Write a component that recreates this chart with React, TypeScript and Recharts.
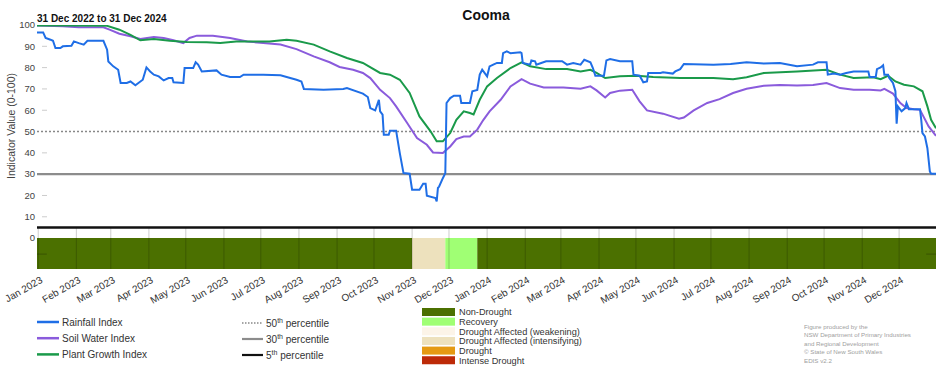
import React from 'react';
import { LineChart, Line, XAxis, YAxis, ReferenceLine, ReferenceArea } from 'recharts';

// day index: 0 = 31 Dec 2022, 731 = 31 Dec 2024
const rainfall: [number, number][] = [
  [0, 96.5], [5, 96.5], [7, 93.9], [11, 93.1], [13, 92.6], [15, 89.2], [19, 89.2], [21, 90], [28, 90.3],
  [30, 92.3], [34, 91.5], [38, 90.8], [41, 92.6], [54, 92.6], [57, 88.4], [58, 82.9], [62, 80.6], [66, 79],
  [68, 72.8], [73, 72.8], [76, 73.5], [80, 71.7], [86, 74.3], [89, 80.1], [92, 78.2], [95, 76.7], [99, 75.9],
  [103, 74], [107, 75.1], [110, 75.1], [111, 73.1], [119, 72.8], [120, 79.8], [127, 79.8], [129, 82.5],
  [131, 81.4], [134, 78.2], [146, 78.7], [150, 76.7], [157, 75.6], [165, 75.6], [168, 76.7], [184, 76.7],
  [198, 76.4], [203, 75.6], [211, 74.3], [215, 73.5], [217, 70], [233, 69.6], [249, 70], [252, 70.4],
  [265, 67.8], [269, 66.2], [271, 61], [275, 59.9], [278, 64.9], [279, 59.5], [281, 57.9], [282, 48.5],
  [286, 48.5], [287, 50.4], [292, 50.4], [295, 39.9], [298, 30.5], [303, 30.2], [305, 22.7], [311, 22.7],
  [314, 25.5], [316, 25.5], [317, 19.9], [324, 18.8], [325, 17.2], [326, 23.5], [327, 24.2], [330, 28.1],
  [332, 30.5], [333, 63.4], [336, 65.7], [339, 66.8], [344, 66.8], [345, 63.4], [352, 63.4], [354, 68.9],
  [358, 69.5], [360, 76.7], [362, 79], [366, 75.9], [368, 80.6], [371, 81.4], [374, 82.2], [378, 82.2],
  [379, 86.8], [382, 87.6], [385, 86.8], [393, 87.2], [394, 86.8], [395, 82.2], [401, 81.4], [402, 83.4],
  [405, 83], [406, 81.4], [410, 82.2], [414, 83], [427, 83], [431, 81.4], [436, 82.2], [442, 81.4],
  [445, 83.7], [450, 82.5], [452, 79.8], [454, 76.2], [461, 76.2], [463, 83.4], [466, 84], [474, 83],
  [484, 83], [485, 76.7], [490, 76.2], [493, 73.1], [496, 73.5], [497, 77.5], [507, 77.5], [509, 77.8],
  [517, 77.2], [519, 78.2], [523, 79.3], [526, 81.7], [550, 81.4], [564, 81.7], [577, 82.5], [591, 81.9],
  [604, 82.2], [618, 80.6], [631, 81.4], [635, 82.5], [642, 82.5], [643, 76.7], [648, 77.2], [653, 76.7],
  [658, 77.5], [664, 78.2], [676, 78.2], [677, 75.6], [682, 75.6], [683, 79.3], [686, 80.1], [688, 81.1],
  [689, 76.7], [692, 76.7], [693, 75.1], [696, 72.8], [698, 68.9], [699, 53.7], [700, 61.8], [703, 59.5],
  [706, 61], [707, 63.4], [709, 60.5], [718, 60.5], [719, 55.5], [720, 49.3], [722, 47.7], [724, 42.2],
  [726, 31.3], [727, 30.2], [731, 30.2],
];

const soilWater: [number, number][] = [
  [0, 99.8], [21, 99.4], [34, 98.9], [54, 98.9], [59, 97.8], [67, 95.9], [76, 94.7], [84, 93.4], [95, 94.4],
  [103, 93.9], [111, 92.8], [119, 91.5], [124, 93.9], [130, 95], [143, 95], [157, 93.9], [171, 92.3],
  [184, 91.5], [198, 90.8], [211, 88.7], [225, 85.3], [238, 82.5], [246, 80.3], [257, 79], [265, 77.5],
  [271, 75.1], [279, 69.6], [287, 65.7], [292, 61.8], [301, 54], [309, 46.9], [317, 43.8], [322, 40.2],
  [330, 39.9], [336, 43], [341, 46.5], [347, 47.7], [352, 47.7], [358, 50.9], [363, 55.5], [368, 59.5],
  [377, 64.9], [385, 71.2], [394, 74.6], [401, 72.5], [412, 70.7], [428, 70.7], [442, 70.1], [450, 71.2],
  [455, 69.3], [462, 66], [466, 68.1], [474, 69.2], [484, 69.6], [490, 64.2], [496, 59.9], [509, 58.4],
  [522, 56], [526, 56.6], [534, 59.9], [545, 63.4], [555, 65.2], [566, 68.1], [577, 70.1], [591, 71.5],
  [604, 71.8], [618, 71.6], [631, 71.8], [642, 72.8], [653, 70.4], [664, 69.6], [677, 69.6], [686, 69.3],
  [689, 70], [696, 67.8], [702, 63.4], [707, 61], [713, 60.5], [718, 60.2], [725, 52.4], [731, 48],
];

const plantGrowth: [number, number][] = [
  [0, 99.8], [21, 99.8], [57, 99.6], [67, 97.8], [76, 95.4], [84, 92.8], [95, 93.4], [108, 92.6], [122, 92],
  [138, 91.9], [149, 91.5], [162, 92.3], [179, 92.2], [189, 92.3], [203, 93.1], [211, 92.6], [225, 90.8],
  [238, 87.6], [252, 84.5], [265, 82.2], [279, 77.5], [287, 76.7], [295, 74.3], [303, 68.1], [311, 57.1],
  [320, 50.1], [325, 45.4], [330, 45.4], [336, 49.3], [341, 55.5], [347, 59.5], [352, 58.7], [355, 58],
  [360, 64.9], [366, 71.2], [374, 75.1], [385, 79.8], [394, 82.5], [401, 80.6], [414, 79.3], [431, 79.3],
  [442, 78.2], [450, 79], [455, 77.5], [462, 75.1], [474, 75.9], [488, 76.2], [501, 75.6], [523, 75.1],
  [550, 75.1], [566, 74.6], [577, 75.5], [591, 77.5], [618, 78.2], [642, 79], [653, 76.7], [664, 75.1],
  [680, 75.5], [686, 74.6], [692, 76.2], [698, 73.5], [705, 72], [713, 71.2], [720, 68.9], [724, 61.8],
  [727, 55.5], [731, 51.6],
];

const monthTicks = [1, 32, 60, 91, 121, 152, 182, 213, 244, 274, 305, 335, 366, 397, 426, 457, 487, 518, 548, 579, 610, 640, 671, 701];
const monthLabels = [
  'Jan 2023', 'Feb 2023', 'Mar 2023', 'Apr 2023', 'May 2023', 'Jun 2023', 'Jul 2023', 'Aug 2023', 'Sep 2023',
  'Oct 2023', 'Nov 2023', 'Dec 2023', 'Jan 2024', 'Feb 2024', 'Mar 2024', 'Apr 2024', 'May 2024', 'Jun 2024',
  'Jul 2024', 'Aug 2024', 'Sep 2024', 'Oct 2024', 'Nov 2024', 'Dec 2024',
];
const yTicks = [0, 10, 20, 30, 40, 50, 60, 70, 80, 90, 100];

const statusNames = ['Non-Drought', 'Recovery', 'Drought Affected (weakening)', 'Drought Affected (intensifying)', 'Drought', 'Intense Drought'];
const statusColors = ['#4b7000', '#a0ff74', '#fcf4e8', '#ede1bd', '#e59a12', '#bd2a08'];
const statusFrom = [0, 305, 332, 358];
const statusTo = [305, 332, 358, 731];
const statusIdx = [0, 3, 1, 0];

const percentiles = [50, 30, 5];

const toRows = (arr: [number, number][]) => arr.map(([d, v]) => ({ d, v }));

const FONT = '"Liberation Sans", Arial, Helvetica, sans-serif';

const XTick = (props: any) => {
  const { x, y, index } = props;
  return (
    <text x={x + 5} y={y + 13} transform={`rotate(-30, ${x + 5}, ${y + 13})`} textAnchor="end" fontSize={10} fill="#333" fontFamily={FONT}>
      {monthLabels[index]}
    </text>
  );
};

const YTick = (props: any) => {
  const { x, y, payload } = props;
  const v = payload.value;
  return (
    <g>
      <text x={x} y={y} dy="0.35em" textAnchor="end" fontSize={9.5} fill="#444" fontFamily={FONT}>{v}</text>
      {v > 0 && v < 100 && v !== 50 && v !== 30 ? <line x1={x + 7} x2={x + 12} y1={y} y2={y} stroke="#ccc" strokeWidth={1} /> : null}
    </g>
  );
};

export default function App() {
  return (
    <div style={{ position: 'absolute', left: 0, top: 0, width: 952, height: 370, background: '#fff', fontFamily: FONT }}>
      <LineChart width={952} height={370} margin={{ top: 25, right: 16, bottom: 0, left: 0 }}>
        <XAxis dataKey="d" type="number" domain={[0, 731]} ticks={monthTicks} interval={0} height={101}
          axisLine={false} tickLine={false} tickSize={0} tickMargin={0} tick={<XTick />} allowDataOverflow />
        <YAxis type="number" domain={[-14.5, 100]} ticks={yTicks} width={37} axisLine={false} tickLine={false}
          tickSize={0} tickMargin={2} tick={<YTick />} interval={0} allowDataOverflow />
        {statusFrom.map((f, i) => (
          <ReferenceArea key={'s' + i} x1={f} x2={statusTo[i]} y1={-14.5} y2={0} fill={statusColors[statusIdx[i]]} fillOpacity={1} stroke="none" />
        ))}
        {monthTicks.map((t) => (
          <ReferenceLine key={'g' + t} segment={[{ x: t, y: 5 }, { x: t, y: -14.5 }]} stroke="rgba(0,0,0,0.2)" strokeWidth={1} />
        ))}
        <ReferenceLine segment={[{ x: 0, y: -7.5 }, { x: 8, y: -7.5 }]} stroke="rgba(0,0,0,0.25)" strokeWidth={1} />
        <ReferenceLine segment={[{ x: 723, y: -7.5 }, { x: 731, y: -7.5 }]} stroke="rgba(0,0,0,0.25)" strokeWidth={1} />
        <ReferenceLine y={percentiles[0]} stroke="#888" strokeWidth={1.5} strokeDasharray="2 2" />
        <ReferenceLine y={percentiles[1]} stroke="#8c8c8c" strokeWidth={2.2} />
        <ReferenceLine y={percentiles[2]} stroke="#111" strokeWidth={2.5} />
        <Line data={toRows(soilWater)} dataKey="v" type="linear" stroke="#8a5bdc" strokeWidth={2} dot={false} isAnimationActive={false} />
        <Line data={toRows(plantGrowth)} dataKey="v" type="linear" stroke="#1a9a4a" strokeWidth={2} dot={false} isAnimationActive={false} />
        <Line data={toRows(rainfall)} dataKey="v" type="linear" stroke="#1f6ee6" strokeWidth={2} dot={false} isAnimationActive={false} />
      </LineChart>
      <svg width={952} height={370} style={{ position: 'absolute', left: 0, top: 0, pointerEvents: 'none' }} fontFamily={FONT}>
        <text x={486} y={20} textAnchor="middle" fontSize={14} fontWeight="bold" fill="#111">Cooma</text>
        <text x={37} y={21.7} fontSize={10} fontWeight="bold" fill="#111">31 Dec 2022 to 31 Dec 2024</text>
        <text x={15} y={126} transform="rotate(-90, 15, 126)" textAnchor="middle" fontSize={10.5} fill="#444">Indicator Value (0-100)</text>

        {[
          { name: 'Rainfall Index', color: '#1f6ee6' },
          { name: 'Soil Water Index', color: '#8a5bdc' },
          { name: 'Plant Growth Index', color: '#1a9a4a' },
        ].map((s, i) => (
          <g key={s.name}>
            <line x1={37} x2={59} y1={322 + i * 16.2} y2={322 + i * 16.2} stroke={s.color} strokeWidth={2.5} />
            <text x={62} y={325.5 + i * 16.2} fontSize={10} fill="#333">{s.name}</text>
          </g>
        ))}

        {percentiles.map((p, i) => (
          <g key={'p' + p}>
            <line x1={242} x2={263} y1={323 + i * 16} y2={323 + i * 16}
              stroke={i === 0 ? '#888' : i === 1 ? '#8c8c8c' : '#111'}
              strokeWidth={i === 0 ? 1.5 : 2.2} strokeDasharray={i === 0 ? '1.5 1.5' : undefined} />
            <text x={266} y={327 + i * 16} fontSize={10} fill="#333">
              {p}<tspan fontSize={7} dy={-4}>th</tspan><tspan dy={4}> percentile</tspan>
            </text>
          </g>
        ))}

        {statusNames.map((n, i) => (
          <g key={n}>
            <rect x={422} y={308 + i * 9.65} width={33} height={8} fill={statusColors[i]} />
            <text x={459} y={315.3 + i * 9.65} fontSize={9.2} fill="#333">{n}</text>
          </g>
        ))}

        {['Figure produced by the', 'NSW Department of Primary Industries', 'and Regional Development', '\u00A9 State of New South Wales', 'EDIS v2.2'].map((t, i) => (
          <text key={t} x={804} y={328.5 + i * 8.5} fontSize={6.2} fill="#a0a0a0">{t}</text>
        ))}
      </svg>
    </div>
  );
}
